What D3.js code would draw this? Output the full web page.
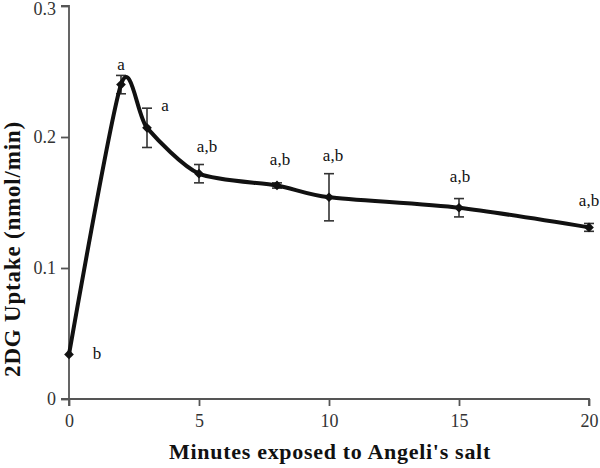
<!DOCTYPE html>
<html><head><meta charset="utf-8">
<script src="https://cdn.jsdelivr.net/npm/d3@7"></script>
<style>body{margin:0;background:#fff}svg{display:block}</style>
</head><body>
<script>
const minutes = [0, 2, 3, 5, 8, 10, 15, 20];
const uptake = [0.034, 0.240, 0.207, 0.172, 0.163, 0.154, 0.146, 0.131];
const errors = [0.001, 0.007, 0.015, 0.007, 0.002, 0.018, 0.007, 0.003];
const letters = ["b", "a", "a", "a,b", "a,b", "a,b", "a,b", "a,b"];
const xTicks = [0, 5, 10, 15, 20];
const yTicks = [0, 0.1, 0.2, 0.3];

const W = 600, H = 468;
const svg = d3.select("body").append("svg").attr("width", W).attr("height", H);
const x = d3.scaleLinear().domain([0, 20]).range([69, 589]);
const y = d3.scaleLinear().domain([0, 0.3]).range([399, 6]);
const font = "'Liberation Serif', serif";
const axisCol = "#555";

const ya = svg.append("g").attr("transform", "translate(69,0)")
  .call(d3.axisLeft(y).tickValues(yTicks).tickFormat(d => d === 0 ? "0" : d3.format(".1f")(d)).tickSize(8).tickPadding(5));
const xa = svg.append("g").attr("transform", "translate(0,399)")
  .call(d3.axisBottom(x).tickValues(xTicks).tickFormat(d3.format("d")).tickSize(7).tickPadding(8));
[ya, xa].forEach(g => {
  g.select(".domain").attr("stroke", axisCol).attr("stroke-width", 1.8);
  g.selectAll(".tick line").attr("stroke", axisCol).attr("stroke-width", 1.8);
  g.selectAll("text").attr("font-family", font).attr("font-size", 18).attr("fill", "#333");
});
ya.selectAll(".tick text").filter(d => d === 0.3).attr("dy", "0.45em");
ya.select(".domain").attr("d", "M-8,6H0V399H-8");
xa.select(".domain").attr("d", "M69,7V0H589V7");

const pts = minutes.map((m, i) => ({m, v: uptake[i], e: errors[i], l: letters[i]}));

// error bars
const eb = svg.append("g").attr("stroke", "#333").attr("stroke-width", 1.6);
pts.forEach(p => {
  if (p.e < 0.0015) return;
  eb.append("line").attr("x1", x(p.m)).attr("x2", x(p.m)).attr("y1", y(p.v - p.e)).attr("y2", y(p.v + p.e));
  [p.v - p.e, p.v + p.e].forEach(v => eb.append("line").attr("x1", x(p.m) - 5).attr("x2", x(p.m) + 5).attr("y1", y(v)).attr("y2", y(v)));
});

// smooth line
const line = d3.line().x(d => x(d.m)).y(d => y(d.v)).curve(d3.curveCardinal.tension(0.25));
svg.append("path").datum(pts).attr("d", line).attr("fill", "none").attr("stroke", "#111").attr("stroke-width", 4).attr("stroke-linejoin", "round");

// diamond markers
svg.append("g").selectAll("path").data(pts).join("path")
  .attr("transform", d => `translate(${x(d.m)},${y(d.v)})`)
  .attr("d", d3.symbol(d3.symbolDiamond2, 60)).attr("fill", "#111");

// significance letters
const offs = [[28, 5], [0, -15], [18, -17], [8, -22], [3, -20], [4, -36], [1, -26], [0, -21]];
svg.append("g").selectAll("text").data(pts).join("text")
  .attr("x", (d, i) => x(d.m) + offs[i][0]).attr("y", (d, i) => y(d.v) + offs[i][1])
  .attr("text-anchor", "middle").attr("font-family", font).attr("font-size", 17).attr("fill", "#111")
  .text(d => d.l);

// axis titles
svg.append("text").attr("x", 330).attr("y", 459).attr("text-anchor", "middle")
  .attr("font-family", font).attr("font-weight", "bold").attr("font-size", 22).attr("letter-spacing", 0.7).attr("fill", "#111")
  .text("Minutes exposed to Angeli's salt");
svg.append("text").attr("transform", "translate(20,249) rotate(-90)").attr("text-anchor", "middle")
  .attr("font-family", font).attr("font-weight", "bold").attr("font-size", 23).attr("letter-spacing", 0.8).attr("fill", "#111")
  .text("2DG Uptake (nmol/min)");
</script>
</body></html>
